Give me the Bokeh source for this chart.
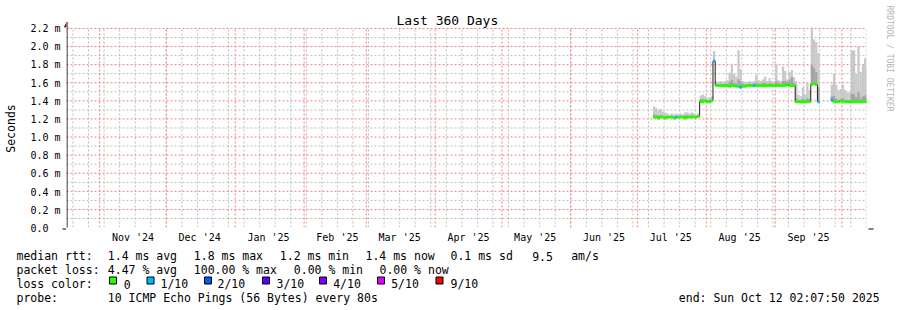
import numpy as np
import pandas as pd
from math import pi
from bokeh.plotting import figure
from bokeh.layouts import column, row
from bokeh.models import (Range1d, FixedTicker, DatetimeTickFormatter, ColumnDataSource,
                          Title, Arrow, NormalHead)
from bokeh.core.properties import value
from bokeh.embed import file_html
from bokeh.resources import INLINE

# ---------------- data ----------------
end_time = "2025-10-12 02:07:50"
span_days = 360
first_day = "2025-07-08"
last_day = "2025-10-12"

nan = float("nan")

# daily median RTT (ms), Jul 8 .. Oct 12 2025
median_ms = [
    1.22, 1.22, 1.21, 1.22, 1.22, 1.21, 1.22, 1.22, 1.22, 1.21, 1.22, 1.22, 1.22, 1.22, 1.21, 1.22, 1.22, 1.22, 1.22, 1.22, 1.23,
    1.39, 1.39, 1.40, 1.39, 1.39, 1.40,
    1.84,
    1.57, 1.57, 1.57, 1.57, 1.57, 1.57, 1.56, 1.57, 1.57, 1.56, 1.56, 1.55, 1.56, 1.56, 1.57, 1.57, 1.57, 1.57,
    1.57, 1.57, 1.57, 1.57, 1.57, 1.57, 1.57, 1.57, 1.57,
    1.57, 1.57, 1.57, 1.57, 1.57, 1.58, 1.57, 1.57, 1.57,
    1.39, 1.39, 1.39, 1.39, 1.39, 1.39, 1.39,
    1.58, 1.59, 1.58,
    1.39,
    nan, nan, nan, nan, nan,
    1.41,
    1.39, 1.39, 1.39, 1.40, 1.39, 1.39, 1.39, 1.39, 1.39, 1.39, 1.39, 1.39, 1.39, 1.39, 1.39, 1.39,
]

# daily maximum ping (outer smoke), ms
smoke_max_ms = [
    1.34, 1.32, 1.30, 1.31, 1.28, 1.27, 1.26, 1.25, 1.26, 1.25, 1.26, 1.25, 1.26, 1.25, 1.27, 1.27, 1.26, 1.27, 1.26, 1.25, 1.26,
    1.46, 1.47, 1.45, 1.43, 1.44, 1.45,
    1.95,
    1.62, 1.61, 1.62, 1.61, 1.62, 1.63, 1.71, 1.81, 1.70, 1.67, 1.96, 1.75, 1.62, 1.61,
    1.61, 1.62, 1.61, 1.62, 1.69, 1.63, 1.62, 1.64, 1.67, 1.62, 1.65, 1.62, 1.61,
    1.81, 1.63, 1.62, 1.78, 1.73, 1.64, 1.72, 1.74, 1.66,
    1.62, 1.47, 1.45, 1.55, 1.47, 1.60, 1.52,
    2.25, 2.08, 2.05,
    1.93,
    nan, nan, nan, nan, nan,
    1.58,
    1.70, 1.58, 1.52, 1.53, 1.58, 1.52, 1.49, 1.50, 1.96, 1.96, 1.70, 2.00, 1.72, 1.80, 1.87, 1.77,
]

# daily inner (darker) smoke top, ms
smoke_inner_ms = [
    1.25, 1.24, 1.24, 1.24, 1.23, 1.23, 1.23, 1.23, 1.23, 1.23, 1.23, 1.23, 1.23, 1.23, 1.24, 1.24, 1.23, 1.24, 1.23, 1.23, 1.24,
    1.42, 1.42, 1.41, 1.41, 1.41, 1.42,
    1.84,
    1.59, 1.58, 1.59, 1.58, 1.59, 1.59, 1.61, 1.63, 1.60, 1.59, 1.64, 1.61, 1.59, 1.58,
    1.58, 1.59, 1.58, 1.59, 1.60, 1.59, 1.59, 1.60, 1.60, 1.59, 1.60, 1.59, 1.59,
    1.62, 1.60, 1.59, 1.62, 1.62, 1.61, 1.63, 1.66, 1.60,
    1.43, 1.41, 1.41, 1.42, 1.41, 1.43, 1.42,
    1.80, 1.76, 1.72,
    1.55,
    nan, nan, nan, nan, nan,
    1.45,
    1.45, 1.42, 1.41, 1.42, 1.43, 1.41, 1.41, 1.41, 1.48, 1.47, 1.44, 1.50, 1.43, 1.45, 1.46, 1.44,
]

# loss level index per day (0 = no loss, 1 = 1/10 ...)
loss_level = [
    0, 0, 0, 0, 0, 0, 0, 0, 0, 0, 1, 0, 0, 0, 0, 0, 0, 0, 0, 0, 0,
    0, 0, 0, 0, 0, 0,
    1,
    0, 0, 0, 0, 0, 0, 0, 0, 0, 0, 0, 1, 0, 0,
    0, 0, 0, 1, 0, 0, 0, 0, 0, 0, 0, 0, 0,
    0, 0, 0, 0, 0, 0, 0, 0, 0,
    0, 0, 0, 0, 0, 0, 0,
    0, 0, 0,
    1,
    0, 0, 0, 0, 0,
    1,
    0, 0, 0, 0, 0, 0, 0, 0, 0, 0, 0, 0, 0, 0, 0, 0,
]

loss_labels = ["0", "1/10", "2/10", "3/10", "4/10", "5/10", "9/10"]
loss_colors = ["#26ff00", "#00b8ff", "#0059ff", "#5e00ff", "#7e00ff", "#dd00ff", "#ff0000"]

y_ticks = [0.0, 0.2, 0.4, 0.6, 0.8, 1.0, 1.2, 1.4, 1.6, 1.8, 2.0, 2.2]
y_tick_labels = ["0.0\u00a0\u00a0", "0.2 m", "0.4 m", "0.6 m", "0.8 m", "1.0 m", "1.2 m",
                 "1.4 m", "1.6 m", "1.8 m", "2.0 m", "2.2 m"]
y_minor_ticks = [0.1, 0.3, 0.5, 0.7, 0.9, 1.1, 1.3, 1.5, 1.7, 1.9, 2.1]
month_starts = ["2024-11-01", "2024-12-01", "2025-01-01", "2025-02-01", "2025-03-01", "2025-04-01",
                "2025-05-01", "2025-06-01", "2025-07-01", "2025-08-01", "2025-09-01", "2025-10-01"]
month_label_days = ["2024-11-16", "2024-12-16", "2025-01-16", "2025-02-16", "2025-03-16", "2025-04-16",
                    "2025-05-16", "2025-06-16", "2025-07-16", "2025-08-16", "2025-09-16"]

title_text = "Last 360 Days"
y_label = "Seconds"
stats_rtt = ["median rtt:", "1.4 ms avg", "1.8 ms max", "1.2 ms min", "1.4 ms now", "0.1 ms sd", "9.5", "am/s"]
stats_loss = ["packet loss:", "4.47 % avg", "100.00 % max", "0.00 % min", "0.00 % now"]
loss_title = "loss color:"
probe_text = ["probe:", "10 ICMP Echo Pings (56 Bytes) every 80s", "end: Sun Oct 12 02:07:50 2025"]
watermark = "RRDTOOL / TOBI OETIKER"

# ---------------- helpers ----------------
def ms(ts):
    return pd.Timestamp(ts).value / 1e6

DAY = 86400000.0
t_end = ms(end_time)
t_start = t_end - span_days * DAY

MONO = "DejaVu Sans Mono"
NB = "\u00a0"
W, H = 897, 310
FL, FR, FT, FB = 66, 866, 28, 228          # data area in the picture
PX_Y = 2.2 / (FB - FT)
TOP = FT - 1
MAIN_H = 245

days = pd.date_range(first_day, last_day, freq="D")
day_ms = np.array([ms(d) for d in days])
med = np.array(median_ms)
top = np.array(smoke_max_ms)
inner = np.array(smoke_inner_ms)
lvl = np.array(loss_level)
ok = np.isfinite(med)

band = 0.016
src = ColumnDataSource(dict(
    left=day_ms[ok], right=day_ms[ok] + DAY,
    med=med[ok], top=top[ok], inner=inner[ok],
    blo=med[ok] - band, bhi=med[ok] + band,
    color=[loss_colors[i] for i in lvl[ok]],
))

# ---------------- main plot (data area + x axis) ----------------
p = figure(width=W - FL, height=MAIN_H, x_axis_type="datetime", y_axis_location=None,
           x_range=Range1d(t_start, t_end), y_range=Range1d(0, 2.2 + (FT - TOP) * PX_Y),
           output_backend="svg", toolbar_location=None,
           min_border_left=0, min_border_right=W - FR,
           min_border_top=TOP, min_border_bottom=MAIN_H - FB)
p.outline_line_color = None
p.background_fill_color = "white"
p.border_fill_color = "white"
p.grid.visible = False

# grid lines (dotted), drawn through the scales
sundays = [ms(d) for d in pd.date_range("2024-10-20", "2025-10-12", freq="W-SUN")]
mstarts = [ms(d) for d in month_starts]
GREY, RED = "#bdbdbd", "#ee8080"
DASH = "2 2"
p.segment(x0=sundays, y0=0, x1=sundays, y1=2.2, line_color=GREY, line_width=1, line_dash=DASH)
p.segment(x0=t_start, y0=y_minor_ticks, x1=t_end, y1=y_minor_ticks, line_color=GREY, line_width=1, line_dash=DASH)
p.segment(x0=mstarts, y0=0, x1=mstarts, y1=2.2, line_color=RED, line_width=1, line_dash=DASH)
p.segment(x0=t_start, y0=y_ticks[1:], x1=t_end, y1=y_ticks[1:], line_color=RED, line_width=1, line_dash=DASH)

xa = p.xaxis[0]
xa.ticker = FixedTicker(ticks=[ms(d) for d in month_label_days])
xa.formatter = DatetimeTickFormatter(**{k: "%b '%y" for k in
    ["microseconds", "milliseconds", "seconds", "minsec", "minutes", "hourmin", "hours", "days", "months", "years"]})
xa.axis_line_color = None
xa.major_tick_line_color = None
xa.minor_tick_line_color = None
xa.major_tick_out = 0
xa.major_tick_in = 0
xa.minor_tick_out = 0
xa.minor_tick_in = 0
xa.major_label_text_font = MONO
xa.major_label_text_font_size = "10px"
xa.major_label_text_color = "black"
xa.major_label_standoff = 4

# title
p.title.text = title_text
p.title.text_font = MONO
p.title.text_font_size = "13px"
p.title.text_font_style = "normal"
p.title.text_color = "black"
p.title.align = "left"
p.title.offset = 396 - FL
p.title.standoff = -(FT - TOP)

# watermark in the right border (a blank spacer title pushes it outward)
p.add_layout(Title(text=NB, text_font=MONO, text_font_size="8px", standoff=6.6), "right")
p.add_layout(Title(text=watermark, align="left", offset=5 - TOP, standoff=0,
                   text_font=MONO, text_font_size="8px", text_font_style="normal",
                   text_color="#b4b4b4"), "right")

# smoke + median
p.quad(left="left", right="right", bottom="med", top="top", source=src,
       fill_color="#c8c8c8", line_color=None)
p.quad(left="left", right="right", bottom="med", top="inner", source=src,
       fill_color="#a4a4a4", line_color=None)
p.step(x=day_ms, y=med, mode="after", line_color="#202020", line_width=1)
p.quad(left="left", right="right", bottom="blo", top="bhi", source=src,
       fill_color="color", line_color=None)

# axis lines with arrow heads (canvas of this plot starts at x = FL)
p.add_layout(Arrow(x_start=0, y_start=FB + 0.5, x_end=FR + 7 - FL, y_end=FB + 0.5,
                   start_units="canvas", end_units="canvas", line_color="black", line_width=1,
                   end=NormalHead(size=5, fill_color="#800000", line_color="#800000", line_width=1)))
p.add_layout(Arrow(x_start=0.5, y_start=FB + 4, x_end=0.5, y_end=FT - 6.5,
                   start_units="canvas", end_units="canvas", line_color="black", line_width=1,
                   end=NormalHead(size=5, fill_color="#800000", line_color="#800000", line_width=1)))

# ---------------- y axis strip (tick labels + axis title) ----------------
py = figure(width=FL, height=MAIN_H, x_range=Range1d(0, FL),
            y_range=Range1d(-(MAIN_H - FB) * PX_Y, 2.2 + FT * PX_Y),
            output_backend="svg", toolbar_location=None, x_axis_location=None, y_axis_location=None,
            min_border=0, title=None)
py.outline_line_color = None
py.grid.visible = False
py.text(x=FL - 6, y=y_ticks, text=y_tick_labels, text_font=value(MONO), text_font_size=value("10px"),
        text_color="black", text_align="right", text_baseline="middle")
py.text(x=10, y=1.1, text=[y_label], angle=pi / 2, text_font=value(MONO), text_font_size=value("11.5px"),
        text_color="black", text_align="center", text_baseline="middle")
py.add_layout(Arrow(x_start=FL + 0.5, y_start=FB + 4, x_end=FL + 0.5, y_end=FT - 6.5,
                    start_units="canvas", end_units="canvas", line_color="black", line_width=1,
                    end=NormalHead(size=5, fill_color="#800000", line_color="#800000", line_width=1)))
py.add_layout(Arrow(x_start=FL - 4, y_start=FB + 0.5, x_end=FL + 1, y_end=FB + 0.5,
                    start_units="canvas", end_units="canvas", line_color="black", line_width=1,
                    end=NormalHead(size=0.1, fill_color="black", line_color="black", line_width=0)))

# ---------------- legend strip ----------------
pl = figure(width=W, height=H - MAIN_H, x_range=Range1d(0, W), y_range=Range1d(H, MAIN_H),
            output_backend="svg", toolbar_location=None, x_axis_location=None, y_axis_location=None,
            min_border=0, title=None)
pl.outline_line_color = None
pl.grid.visible = False

rows = [255.5, 269.5, 283.5, 297.5]
tx, ty, tt = [], [], []
def put(s, x, y):
    tx.append(x); ty.append(y); tt.append(s)
for s, x in zip(stats_rtt, [16, 107.3, 193.3, 279.3, 365, 450, 531.7, 570.7]):
    put(s, x, rows[0])
for s, x in zip(stats_loss, [16, 107.3, 193.3, 293.3, 379]):
    put(s, x, rows[1])
put(loss_title, 16, rows[2])
box_x = [108.5, 146, 203.5, 261.5, 318.5, 376.5, 435]
lab_x = [123.3, 160, 217, 276, 332.7, 390.7, 450]
for lab, lx in zip(loss_labels, lab_x):
    put(lab, lx, rows[2])
for s, x in zip(probe_text, [16, 107.3, 678.3]):
    put(s, x, rows[3])
pl.text(x=tx, y=ty, text=tt, text_font=value(MONO), text_font_size=value("11.5px"),
        text_color="black", text_align="left", text_baseline="alphabetic")
pl.quad(left=[b + 0.5 for b in box_x], right=[b + 7.5 for b in box_x], top=276.5, bottom=283.5,
        fill_color=loss_colors, line_color="black", line_width=1)

layout = column(row(column(py, spacing=0), p, spacing=0), row(pl, spacing=0), spacing=0)
open("out.html", "w").write(file_html(layout, INLINE))
